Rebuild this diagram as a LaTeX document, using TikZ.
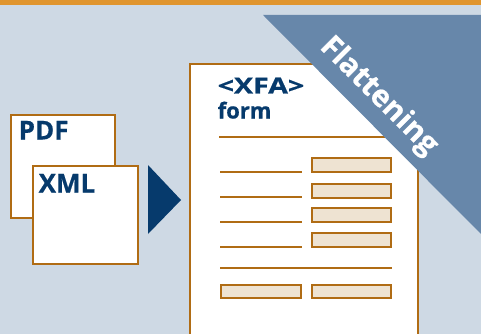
\documentclass[tikz,border=0pt]{standalone}
\usepackage{fontspec}
\usepackage{graphicx}
\setmainfont{Open Sans}[BoldFeatures={FakeBold=0.6}]
\definecolor{bar}{HTML}{E0952E}
\definecolor{bg}{HTML}{CED9E4}
\definecolor{tri}{HTML}{6787AA}
\definecolor{brd}{HTML}{B06C14}
\definecolor{fld}{HTML}{EEE3D2}
\definecolor{ink}{HTML}{063A6C}
\begin{document}
\begin{tikzpicture}[x=1pt,y=-1pt,
  docbox/.style={draw=brd,line width=1.6pt,fill=white},
  fieldbox/.style={draw=brd,line width=2pt,fill=fld},
  rulel/.style={draw=brd,line width=2pt},
  lbl/.style={font=\bfseries\fontsize{26}{26}\selectfont, text=ink, inner sep=0pt, anchor=base west},
  ttl/.style={font=\bfseries\fontsize{22}{22}\selectfont, text=ink, inner sep=0pt, anchor=base west}]
\useasboundingbox (0,0) rectangle (481,334);
\clip (0,0) rectangle (481,334);
\fill[bg] (0,0) rectangle (481,334);
\fill[bar] (0,0) rectangle (481,5);
% source documents
\draw[docbox] (11,115) rectangle (115,218);
\node[lbl] (pdf) at (18.5,139.5) {PDF};
\draw[docbox] (33,166) rectangle (138,264);
\node[lbl] (xml) at (38.5,192.5) {XML};
% arrow
\fill[ink] (148,165) -- (181,200) -- (148,234) -- cycle;
% form page
\draw[docbox] (190,64) rectangle (418,345);
\node[ttl] (xfa) at (217.5,93.5) {\scalebox{1.3}[1]{<XFA>}};
\node[ttl] (form) at (217.5,118.5) {form};
\draw[rulel] (219,137) -- (395,137);
\foreach \y/\t in {172/157,197/183,222/207,247/232}{
  \draw[rulel] (220,\y) -- (302,\y);
  \draw[fieldbox] (312,\t+1) rectangle (391,\t+15);
}
\draw[rulel] (220,268) -- (392,268);
\draw[fieldbox] (221,285) rectangle (301,298);
\draw[fieldbox] (312,285) rectangle (391,298);
% flattening banner
\fill[tri] (263,15) -- (481,15) -- (481,234) -- cycle;
\node[font=\bfseries\fontsize{30}{30}\selectfont, text=white, inner sep=0pt, anchor=base, rotate=-45] (flat) at (373,102) {Flattening};
\end{tikzpicture}
\end{document}
